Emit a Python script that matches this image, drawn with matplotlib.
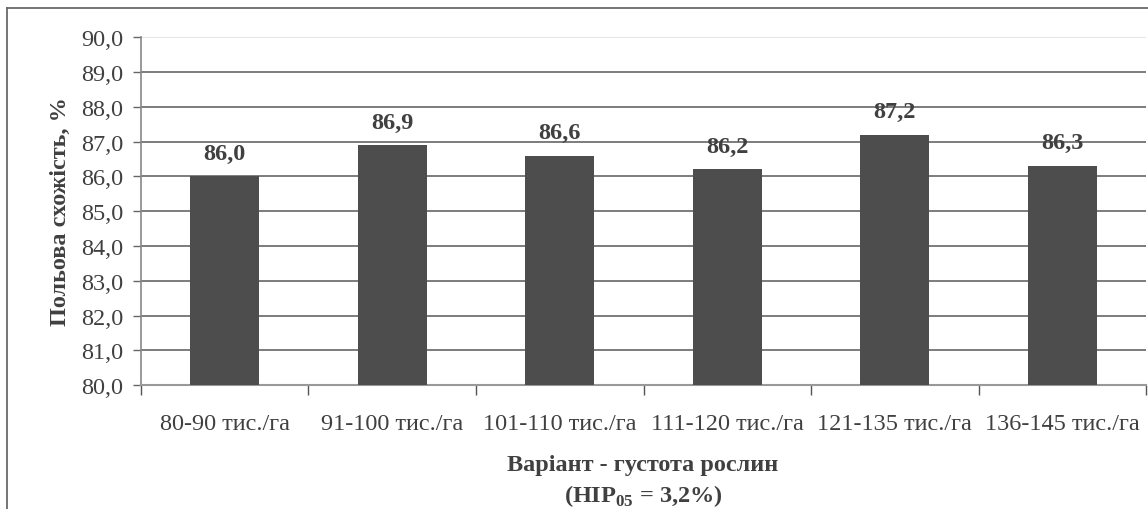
import matplotlib.pyplot as plt
from matplotlib.lines import Line2D
from matplotlib.ticker import FixedLocator

# Дані: польова схожість за густотою рослин
variants = ["80-90 тис./га", "91-100 тис./га", "101-110 тис./га",
            "111-120 тис./га", "121-135 тис./га", "136-145 тис./га"]
germination = [86.0, 86.9, 86.6, 86.2, 87.2, 86.3]
y_ticks = [80, 81, 82, 83, 84, 85, 86, 87, 88, 89, 90]

plt.rcParams['font.family'] = ['Liberation Serif', 'DejaVu Serif']
plt.rcParams['mathtext.fontset'] = 'custom'
plt.rcParams['mathtext.bf'] = 'Liberation Serif:bold'
plt.rcParams['mathtext.rm'] = 'Liberation Serif:bold'

text_color = '#404040'
fs = 17.5


def main():
    fig = plt.figure(figsize=(11.48, 5.10), dpi=100)
    ax = fig.add_axes([0.1228, 0.243, 0.8755, 0.682])

    x = list(range(len(variants)))
    bars = ax.bar(x, germination, width=0.41, color='#4d4d4d', zorder=3)

    ax.set_ylim(80, 90)
    ax.set_xlim(-0.5, len(variants) - 0.5)

    # горизонтальна сітка
    for v in y_ticks[1:]:
        c = '#e0e0e0' if v == 90 else '#666666'
        ax.axhline(v, color=c, lw=1.2, zorder=1)

    ax.set_yticks(y_ticks)
    ax.set_yticklabels([f"{v:.1f}".replace('.', ',') for v in y_ticks],
                       fontsize=fs, color=text_color)
    ax.tick_params(axis='y', length=6, width=1, color='#666666', pad=7)

    ax.set_xticks(x)
    ax.set_xticklabels(variants, fontsize=fs, color=text_color)
    ax.tick_params(axis='x', which='major', length=0, pad=20)
    ax.xaxis.set_minor_locator(FixedLocator([i - 0.5 for i in range(len(variants) + 1)]))
    ax.tick_params(axis='x', which='minor', length=7, width=1, color='#555555')

    for s in ['top', 'right']:
        ax.spines[s].set_visible(False)
    ax.spines['left'].set_color('#888888')
    ax.spines['bottom'].set_color('#999999')
    ax.spines['left'].set_linewidth(1.2)
    ax.spines['bottom'].set_linewidth(1.5)

    # підписи значень над стовпчиками
    for b, v in zip(bars, germination):
        ax.annotate(f"{v:.1f}".replace('.', ','),
                    (b.get_x() + b.get_width() / 2, v),
                    xytext=(0, 9), textcoords='offset points',
                    ha='center', va='bottom', fontsize=fs,
                    fontweight='bold', color=text_color)

    fig.text(60 / 1148, 1 - 212 / 510, "Польова схожість, %", rotation=90,
             ha='center', va='center', fontsize=fs, fontweight='bold',
             color=text_color)
    fig.text(643 / 1148, 1 - 466 / 510, "Варіант - густота рослин",
             ha='center', va='center', fontsize=fs, fontweight='bold',
             color=text_color)
    fig.text(643 / 1148, 1 - 496 / 510, r"(НІР$_{\mathbf{05}}$ = 3,2%)",
             ha='center', va='center', fontsize=fs, fontweight='bold',
             color=text_color)

    # рамка області діаграми (ліва та верхня сторони)
    left = 6.5 / 1148
    top = 1 - 9 / 510
    fig.add_artist(Line2D([left, left], [0, top], transform=fig.transFigure,
                          color='#6a6a6a', lw=1.3))
    fig.add_artist(Line2D([left, 1], [top, top], transform=fig.transFigure,
                          color='#6a6a6a', lw=1.3))

    fig.savefig("out.png", dpi=100)


if __name__ == "__main__":
    main()
